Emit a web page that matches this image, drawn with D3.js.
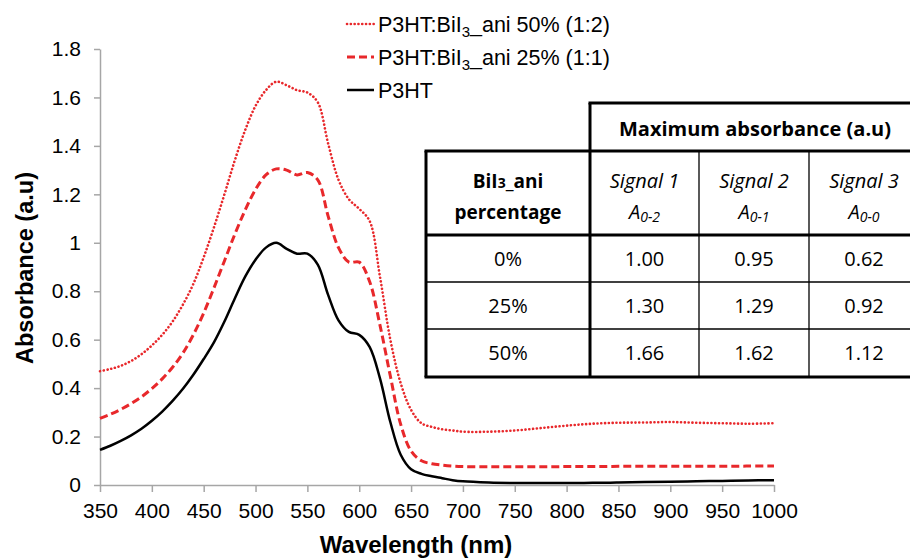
<!DOCTYPE html>
<html>
<head>
<meta charset="utf-8">
<script src="https://cdn.jsdelivr.net/npm/d3@7"></script>
<style>
  body { margin: 0; background: #fff; }
  svg { display: block; }
  .tick text { font-family: "Liberation Sans", Arial, sans-serif; font-size: 21px; fill: #000; }
  .axis path, .axis line { stroke: #a6a6a6; stroke-width: 1.5; }
  .tbl text { font-family: "Open Sans", Lato, sans-serif; font-size: 19px; fill: #000; }
</style>
</head>
<body>
<svg width="910" height="560"></svg>
<script>
// wavelength grid (nm)
var wavelength = [350,360,370,380,390,400,410,420,430,440,450,460,470,480,490,500,510,520,530,540,
  550,560,570,580,590,600,610,620,630,640,650,660,670,680,690,700,725,750,775,800,825,850,875,900,925,950,975,1000];

var p3ht = [0.145,0.162,0.182,0.205,0.232,0.265,0.303,0.347,0.397,0.455,0.52,0.59,0.675,0.77,0.86,0.93,0.98,1.00,0.975,0.955,
  0.955,0.91,0.785,0.68,0.632,0.62,0.57,0.44,0.26,0.125,0.065,0.046,0.036,0.028,0.02,0.015,0.01,0.008,0.008,0.008,0.009,0.01,0.012,0.013,0.015,0.017,0.019,0.02];

var ani25 = [0.275,0.292,0.312,0.336,0.364,0.398,0.438,0.486,0.545,0.62,0.71,0.815,0.925,1.035,1.135,1.22,1.28,1.305,1.30,1.28,
  1.29,1.26,1.11,0.98,0.92,0.92,0.84,0.66,0.45,0.25,0.14,0.10,0.088,0.082,0.078,0.076,0.075,0.075,0.075,0.076,0.076,0.077,0.077,0.077,0.077,0.077,0.078,0.078];

var ani50 = [0.47,0.479,0.492,0.512,0.54,0.576,0.62,0.675,0.745,0.83,0.94,1.065,1.20,1.34,1.465,1.565,1.63,1.665,1.65,1.63,
  1.62,1.58,1.41,1.26,1.18,1.14,1.09,0.86,0.60,0.42,0.31,0.255,0.24,0.23,0.225,0.22,0.22,0.225,0.235,0.245,0.253,0.257,0.258,0.26,0.257,0.255,0.253,0.255];

var xTicks = [350,400,450,500,550,600,650,700,750,800,850,900,950,1000];
var yTicks = [0,0.2,0.4,0.6,0.8,1,1.2,1.4,1.6,1.8];

// inset table
var tblPercent = ["0%","25%","50%"];
var signal1 = ["1.00","1.30","1.66"];
var signal2 = ["0.95","1.29","1.62"];
var signal3 = ["0.62","0.92","1.12"];
var signalNames = ["Signal 1","Signal 2","Signal 3"];
var signalSubs = ["0-2","0-1","0-0"];

var series = [
  {name: "P3HT:BiI", sub: "3", rest: "_ani 50% (1:2)", values: ani50, color: "#e8282b", width: 2.6, dash: "0.1,3.7", cap: "round"},
  {name: "P3HT:BiI", sub: "3", rest: "_ani 25% (1:1)", values: ani25, color: "#e8282b", width: 3, dash: "8,4", cap: "butt"},
  {name: "P3HT", sub: "", rest: "", values: p3ht, color: "#000", width: 2.5, dash: null, cap: "butt"}
];

var svg = d3.select("svg");
var margin = {top: 49, left: 100};
var width = 674, height = 436;

var x = d3.scaleLinear().domain([350, 1000]).range([0, width]);
var y = d3.scaleLinear().domain([0, 1.8]).range([height, 0]);

var g = svg.append("g").attr("transform", "translate(" + margin.left + "," + margin.top + ")");

g.append("g").attr("class", "axis")
  .call(d3.axisLeft(y).tickValues(yTicks).tickFormat(d3.format("")).tickSize(6).tickSizeOuter(0).tickPadding(13));
var xAxis = g.append("g").attr("class", "axis")
  .attr("transform", "translate(0," + height + ")")
  .call(d3.axisBottom(x).tickValues(xTicks).tickFormat(d3.format("d")).tickSize(7).tickSizeOuter(0).tickPadding(6));
xAxis.selectAll(".tick text").attr("dy", "0.95em");

var line = d3.line()
  .x(function (d, i) { return x(wavelength[i]); })
  .y(function (d) { return y(d); })
  .curve(d3.curveCatmullRom.alpha(0.5));

g.selectAll(".curve").data(series).enter().append("path")
  .attr("class", "curve")
  .attr("d", function (d) { return line(d.values); })
  .attr("fill", "none")
  .attr("stroke", function (d) { return d.color; })
  .attr("stroke-width", function (d) { return d.width; })
  .attr("stroke-dasharray", function (d) { return d.dash; })
  .attr("stroke-linecap", function (d) { return d.cap; });

// axis titles
svg.append("text")
  .attr("x", 416).attr("y", 553)
  .attr("text-anchor", "middle")
  .style("font-family", "Liberation Sans, Arial, sans-serif")
  .style("font-size", "24px").style("font-weight", "bold")
  .text("Wavelength (nm)");
svg.append("text")
  .attr("transform", "translate(33,268) rotate(-90)")
  .attr("text-anchor", "middle")
  .style("font-family", "Liberation Sans, Arial, sans-serif")
  .style("font-size", "23.5px").style("font-weight", "bold")
  .text("Absorbance (a.u)");

// legend
var legend = svg.append("g").attr("transform", "translate(347,24)");
var items = legend.selectAll("g").data(series).enter().append("g")
  .attr("transform", function (d, i) { return "translate(0," + i * 33 + ")"; });
items.append("line")
  .attr("x1", 0).attr("x2", 27).attr("y1", 0).attr("y2", 0)
  .attr("stroke", function (d) { return d.color; })
  .attr("stroke-width", function (d) { return d.width; })
  .attr("stroke-dasharray", function (d) { return d.dash; })
  .attr("stroke-linecap", function (d) { return d.cap; });
var lt = items.append("text")
  .attr("x", 31).attr("y", 8)
  .style("font-family", "Liberation Sans, Arial, sans-serif")
  .style("font-size", "21.5px");
lt.append("tspan").text(function (d) { return d.name; });
lt.append("tspan").attr("dy", 5).style("font-size", "15px").text(function (d) { return d.sub; });
lt.append("tspan").attr("dy", -5).text(function (d) { return d.rest; });

// inset table
var cols = [426, 590, 699, 809, 919];
var rows = [103, 151, 235, 282, 329, 377];
var tbl = svg.append("g").attr("class", "tbl");

function hline(x1, x2, yy, w) {
  tbl.append("line").attr("x1", x1).attr("x2", x2).attr("y1", yy).attr("y2", yy)
    .attr("stroke", "#000").attr("stroke-width", w);
}
function vline(xx, y1, y2, w) {
  tbl.append("line").attr("x1", xx).attr("x2", xx).attr("y1", y1).attr("y2", y2)
    .attr("stroke", "#000").attr("stroke-width", w);
}
hline(cols[1] - 1.5, cols[4], rows[0], 3);
hline(cols[0] - 1.5, cols[4], rows[1], 3);
hline(cols[0], cols[4], rows[2], 3);
hline(cols[0], cols[4], rows[3], 1.3);
hline(cols[0], cols[4], rows[4], 1.3);
hline(cols[0] - 1.5, cols[4], rows[5], 3);
vline(cols[0], rows[1], rows[5], 3);
vline(cols[1], rows[0], rows[5], 3);
vline(cols[2], rows[1], rows[5], 1.3);
vline(cols[3], rows[1], rows[5], 1.3);

tbl.append("text").attr("x", 755).attr("y", rows[0] + 33)
  .attr("text-anchor", "middle").style("font-weight", "bold").style("font-size", "20px")
  .text("Maximum absorbance (a.u)");

var hd = tbl.append("text").attr("x", (cols[0] + cols[1]) / 2).attr("y", 188)
  .attr("text-anchor", "middle").style("font-weight", "bold");
hd.append("tspan").text("BiI");
hd.append("tspan").style("font-size", "14px").text("3");
hd.append("tspan").text("_ani");
tbl.append("text").attr("x", (cols[0] + cols[1]) / 2).attr("y", 219)
  .attr("text-anchor", "middle").style("font-weight", "bold").text("percentage");

signalNames.forEach(function (s, i) {
  var cx = (cols[i + 1] + cols[i + 2]) / 2;
  tbl.append("text").attr("x", cx).attr("y", 188)
    .attr("text-anchor", "middle").style("font-style", "italic").style("font-size", "20px").text(s);
  var a = tbl.append("text").attr("x", cx).attr("y", 219)
    .attr("text-anchor", "middle").style("font-style", "italic").style("font-size", "20px");
  a.append("tspan").text("A");
  a.append("tspan").attr("dy", 3).style("font-size", "14px").text(signalSubs[i]);
});

var tableCols = [tblPercent, signal1, signal2, signal3];
tableCols.forEach(function (col, c) {
  col.forEach(function (v, r) {
    tbl.append("text")
      .attr("x", (cols[c] + cols[c + 1]) / 2)
      .attr("y", (rows[r + 2] + rows[r + 3]) / 2 + 7)
      .attr("text-anchor", "middle")
      .style("font-size", "20px")
      .text(v);
  });
});
</script>
</body>
</html>
